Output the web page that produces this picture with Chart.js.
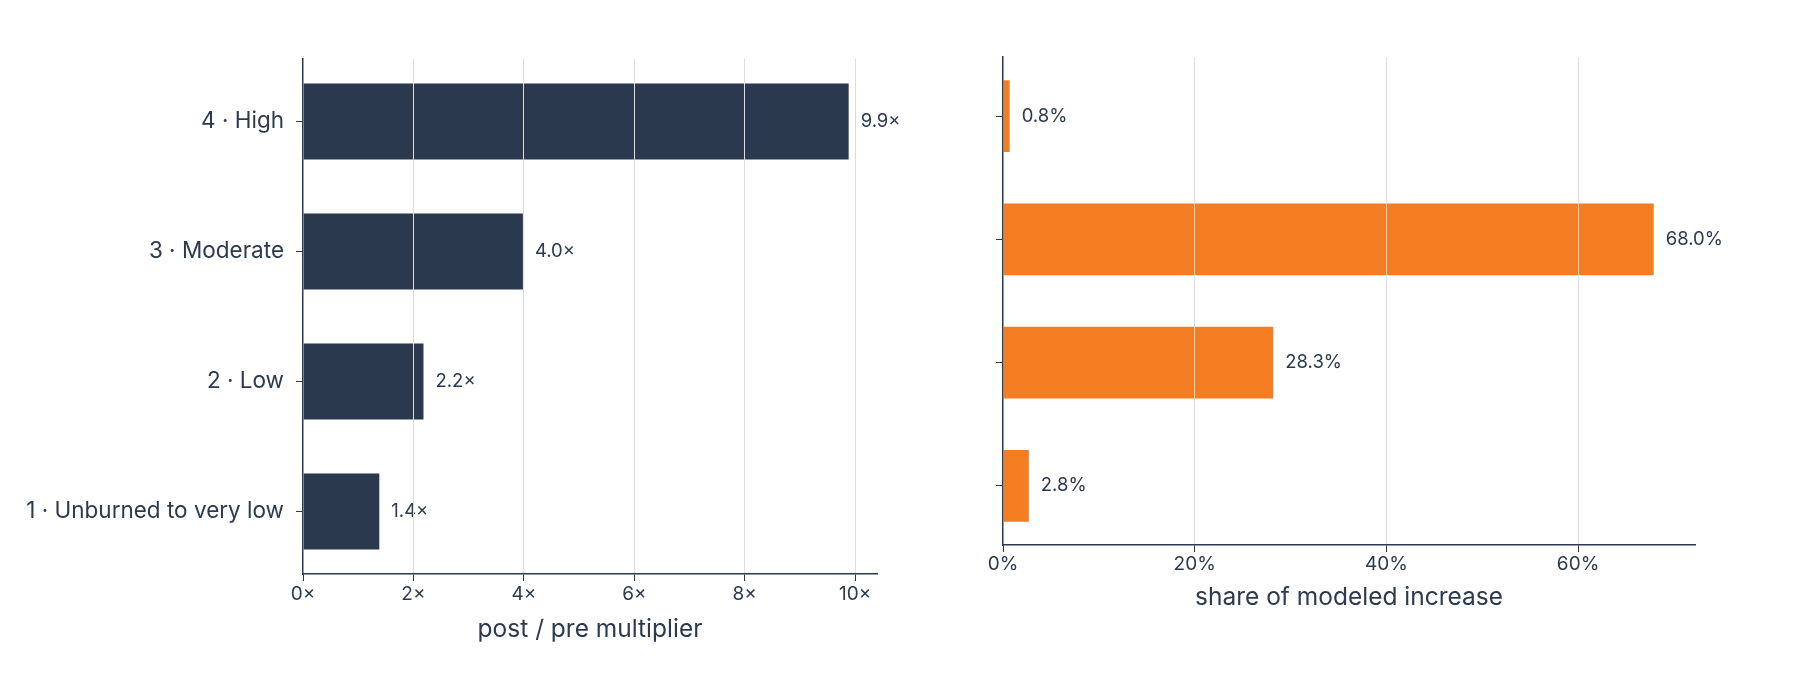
<!DOCTYPE html>
<html>
<head>
<meta charset="utf-8">
<script src="https://cdn.jsdelivr.net/npm/chart.js@4/dist/chart.umd.min.js"></script>
<style>
  html, body { margin: 0; padding: 0; background: #fff; }
  #wrap { position: relative; width: 1798px; height: 675px; }
  .box { position: absolute; top: 0; height: 675px; }
  #leftBox { left: 0; width: 900px; }
  #rightBox { left: 900px; width: 898px; }
</style>
</head>
<body>
<div id="wrap">
  <div class="box" id="leftBox"><canvas id="leftChart"></canvas></div>
  <div class="box" id="rightBox"><canvas id="rightChart"></canvas></div>
</div>
<script>
const categories = ["4 · High", "3 · Moderate", "2 · Low", "1 · Unburned to very low"];
const multiplier = [9.9, 4.0, 2.2, 1.4];
const shareIncrease = [0.8, 68.0, 28.3, 2.8];
const multiplierTicks = [0, 2, 4, 6, 8, 10];
const shareTicks = [0, 20, 40, 60];

const ink = "#2b3a4f";
const gridColor = "#e1ddd6";
const navy = "#2b394f";
const orange = "#f47d21";
const fontFamily = "Inter, 'Noto Sans', sans-serif";

Chart.defaults.font.family = fontFamily;
Chart.defaults.color = ink;
Chart.defaults.animation = false;

// value labels at the end of each bar
const barLabels = {
  id: "barLabels",
  afterDatasetsDraw(chart, args, opts) {
    const ctx = chart.ctx;
    const meta = chart.getDatasetMeta(0);
    const values = chart.data.datasets[0].data;
    ctx.save();
    ctx.font = "18.5px " + fontFamily;
    ctx.fillStyle = ink;
    ctx.textAlign = "left";
    ctx.textBaseline = "middle";
    meta.data.forEach((bar, i) => {
      ctx.fillText(opts.format(values[i].x), bar.x + 11, bar.y);
    });
    ctx.restore();
  },
};

function makeChart(el, values, color, xMax, tickList, fmt, cfg) {
  return new Chart(document.getElementById(el), {
    type: "bar",
    data: {
      labels: categories,
      datasets: [{
        // y is the category index, so the bar axis can keep matplotlib-like margins
        data: values.map((v, i) => ({ x: v, y: i })),
        backgroundColor: color,
        borderColor: "rgba(255,255,255,0.55)",
        borderWidth: 1,
        borderSkipped: "left",
        barPercentage: 0.6,
        categoryPercentage: 1.0,
      }],
    },
    options: {
      indexAxis: "y",
      responsive: true,
      maintainAspectRatio: false,
      layout: { padding: cfg.padding },
      plugins: {
        legend: { display: false },
        tooltip: { enabled: false },
        barLabels: { format: fmt },
      },
      scales: {
        x: {
          type: "linear",
          min: 0,
          max: xMax,
          afterBuildTicks(scale) {
            scale.ticks = tickList.map(v => ({ value: v }));
          },
          afterFit(scale) { scale.height = cfg.xHeight; },
          border: { display: true, color: ink, width: 1.5, z: 1 },
          grid: {
            z: 1,
            color: ctx => (ctx.tick && ctx.tick.value === 0 ? "rgba(0,0,0,0)" : gridColor),
            lineWidth: 1,
            tickColor: ink,
            tickLength: 7,
          },
          ticks: {
            padding: cfg.xTickPad,
            font: { size: 19 },
            color: ink,
            callback: v => fmt(v, true),
          },
          title: {
            display: true,
            text: cfg.title,
            font: { size: 24.5 },
            color: ink,
            padding: { top: 0, bottom: cfg.titlePad },
          },
        },
        y: {
          type: "linear",
          min: -0.48,
          max: 3.48,
          reverse: true,
          offset: false,
          afterBuildTicks(scale) {
            scale.ticks = categories.map((c, i) => ({ value: i }));
          },
          afterFit(scale) { scale.width = cfg.yWidth; },
          border: { display: true, color: ink, width: 1.5, z: 1 },
          grid: {
            z: 1,
            offset: false,
            drawOnChartArea: false,
            tickColor: ink,
            tickLength: 7,
          },
          ticks: {
            padding: 12,
            font: { size: 22.5 },
            color: ink,
            callback: v => (cfg.showLabels ? categories[v] : ""),
          },
        },
      },
    },
    plugins: [barLabels],
  });
}

makeChart("leftChart", multiplier, navy, 10.395, multiplierTicks,
  (v, tick) => (tick ? v + "×" : v.toFixed(1) + "×"),
  {
    padding: { left: 0, right: 23, top: 59, bottom: 0 },
    xHeight: 101,
    yWidth: 303,
    xTickPad: 2,
    titlePad: 31,
    title: "post / pre multiplier",
    showLabels: true,
  });

makeChart("rightChart", shareIncrease, orange, 72.2, shareTicks,
  (v, tick) => (tick ? v + "%" : v.toFixed(1) + "%"),
  {
    padding: { left: 0, right: 103, top: 57, bottom: 0 },
    xHeight: 130,
    yWidth: 103,
    xTickPad: 1,
    titlePad: 63,
    title: "share of modeled increase",
    showLabels: false,
  });
</script>
</body>
</html>
